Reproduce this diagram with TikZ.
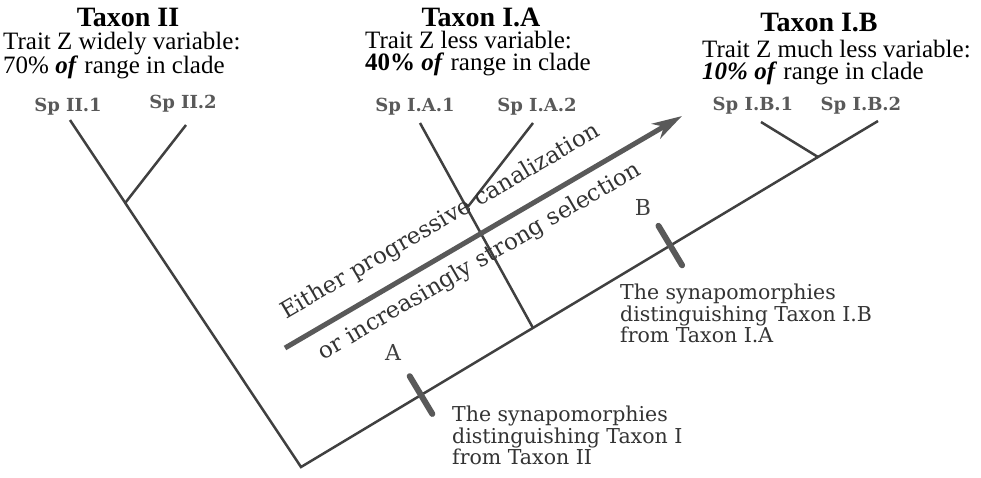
\documentclass[tikz,border=0pt]{standalone}
\usepackage{fontspec}
\setmainfont{Liberation Serif}
\newfontfamily\cladefont{DejaVu Serif}
\usepackage{tikz}
\usetikzlibrary{arrows.meta, positioning, calc}

\begin{document}
\begin{tikzpicture}[
    x=1pt, y=-1pt,
    branch/.style={draw=black!75, line width=2.5pt},
    synmark/.style={draw=black!65, line width=6pt, line cap=round},
    trend/.style={draw=black!65, line width=5pt, -{Stealth[length=30pt,width=17pt,inset=9pt]}},
    taxon/.style={font=\bfseries\fontsize{28}{28}\selectfont, inner sep=0pt, anchor=base},
    trait/.style={font=\fontsize{25}{22}\selectfont, align=left, inner sep=0pt, anchor=north west},
    species/.style={font=\cladefont\bfseries\fontsize{18}{18}\selectfont, text=black!65, inner sep=0pt},
    note/.style={font=\cladefont\fontsize{20.5}{21.5}\selectfont, text=black!80, align=left, inner sep=0pt, anchor=north west},
    synlabel/.style={font=\cladefont\fontsize{22}{22}\selectfont, text=black!75, inner sep=0pt},
    trendtext/.style={font=\cladefont\fontsize{23}{23}\selectfont, text=black!80, inner sep=0pt, sloped, anchor=base}
]
\useasboundingbox (0,0) rectangle (981,477);

\coordinate (root) at (301,467);
\coordinate (tipII1) at (70,120);
\coordinate (tipII2) at (186,125);
\coordinate (tipIA1) at (420,123);
\coordinate (tipIA2) at (533,123);
\coordinate (tipIB1) at (761,122);
\coordinate (tipIB2) at (878,121);
\coordinate (nodeII) at ($(root)!0.761!(tipII1)$);
\coordinate (nodeIA) at ($(root)!0.402!(tipIB2)$);
\coordinate (nodeIB) at ($(root)!0.896!(tipIB2)$);
\coordinate (nodeIAtwo) at ($(nodeIA)!0.585!(tipIA1)$);
\coordinate (synA) at ($(root)!0.208!(tipIB2)$);
\coordinate (synB) at ($(root)!0.64!(tipIB2)$);
\coordinate (trendstart) at (285,348);
\coordinate (trendend) at (682,116);

% tree
\draw[branch] (tipII1) -- (root) -- (tipIB2);
\draw[branch] (nodeII) -- (tipII2);
\draw[branch] (nodeIA) -- (tipIA1);
\draw[branch] (nodeIAtwo) -- (tipIA2);
\draw[branch] (nodeIB) -- (tipIB1);

\draw[synmark] ($(synA)!22pt!90:(tipIB2)$) -- ($(synA)!22pt!-90:(tipIB2)$);
\draw[synmark] ($(synB)!23pt!90:(tipIB2)$) -- ($(synB)!23pt!-90:(tipIB2)$);
\node[synlabel] (labA) at (393,352) {A};
\node[synlabel] (labB) at (643,207) {B};

\draw[trend] (trendstart) -- (trendend)
    node[trendtext, pos=0.43, yshift=24pt] (upper) {Either progressive canalization}
    node[trendtext, pos=0.46, yshift=-30pt] (lower) {or increasingly strong selection};

% taxa
\node[taxon] (taxII) at (128,26) {Taxon II};
\node[taxon] (taxIA) at (481,26) {Taxon I.A};
\node[taxon] (taxIB) at (819,31) {Taxon I.B};

\node[trait] (traitII) at (3,32) {Trait Z widely variable:\\70\% \textbf{\textit{of}} range in clade};
\node[trait] (traitIA) at (365,31) {Trait Z less variable:\\\textbf{40\% \textit{of}} range in clade};
\node[trait] (traitIB) at (702,40) {Trait Z much less variable:\\\textbf{\textit{10\% of}} range in clade};

\node[species, above=5pt of tipII1, xshift=-2pt] (spII1) {Sp II.1};
\node[species, above=13pt of tipII2, xshift=-3pt] (spII2) {Sp II.2};
\node[species, above=8pt of tipIA1, xshift=-5pt] (spIA1) {Sp I.A.1};
\node[species, above=8pt of tipIA2, xshift=4pt] (spIA2) {Sp I.A.2};
\node[species, above=8pt of tipIB1, xshift=-8pt] (spIB1) {Sp I.B.1};
\node[species, above=7pt of tipIB2, xshift=-17pt] (spIB2) {Sp I.B.2};

\node[note] (noteA) at (452,406) {The synapomorphies\\distinguishing Taxon I\\from Taxon II};
\node[note] (noteB) at (620,284) {The synapomorphies\\distinguishing Taxon I.B\\from Taxon I.A};

\end{tikzpicture}
\end{document}
